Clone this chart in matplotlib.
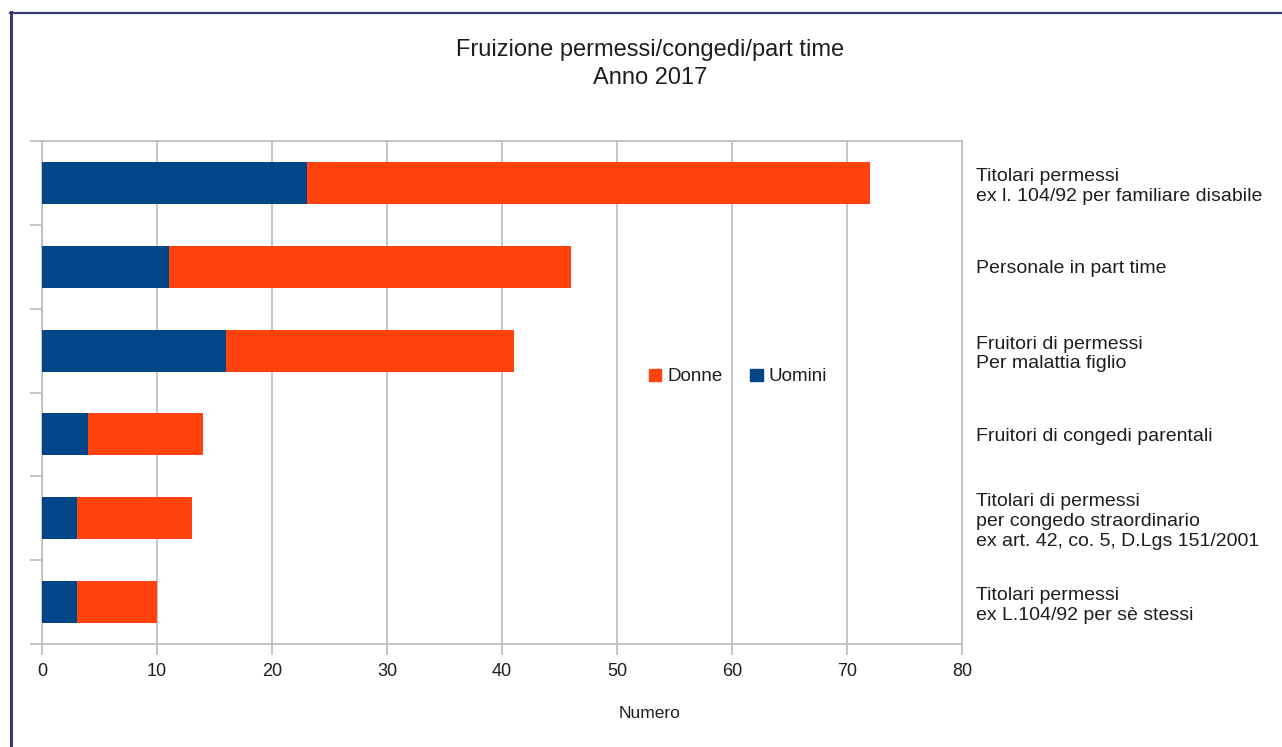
import matplotlib
matplotlib.use("Agg")
import matplotlib.pyplot as plt
from matplotlib.lines import Line2D
from matplotlib.patches import Patch
import numpy as np

# Dati (dall'alto verso il basso)
categorie = [
    "Titolari permessi\nex l. 104/92 per familiare disabile",
    "Personale in part time",
    "Fruitori di permessi\nPer malattia figlio",
    "Fruitori di congedi parentali",
    "Titolari di permessi\nper congedo straordinario\nex art. 42, co. 5, D.Lgs 151/2001",
    "Titolari permessi\nex L.104/92 per sè stessi",
]
uomini = [23, 11, 16, 4, 3, 3]
donne = [49, 35, 25, 10, 10, 7]

TITOLO = "Fruizione permessi/congedi/part time\nAnno 2017"
X_LABEL = "Numero"
X_TICKS = [0, 10, 20, 30, 40, 50, 60, 70, 80]

COL_UOMINI = "#004586"
COL_DONNE = "#ff420e"
COL_GRID = "#c0c0c0"
COL_TEXT = "#1e1e1e"

plt.rcParams["font.family"] = ["Liberation Sans", "DejaVu Sans"]

W, H = 1282, 747
fig = plt.figure(figsize=(W / 100, H / 100), dpi=100)
ax = fig.add_axes([42 / W, 1 - 644 / H, 920 / W, 503 / H])

y = np.arange(len(categorie))
ax.barh(y, uomini, height=0.5, color=COL_UOMINI, label="Uomini", zorder=3)
ax.barh(y, donne, left=uomini, height=0.5, color=COL_DONNE, label="Donne", zorder=3)

ax.set_xlim(0, 80)
ax.set_ylim(len(categorie) - 0.5, -0.5)
ax.set_xticks(X_TICKS)
ax.grid(axis="x", color=COL_GRID, linewidth=1.3, zorder=0)

# etichette categorie a destra, tacche ai confini a sinistra
ax.set_yticks(y)
ax.set_yticklabels(categorie, linespacing=1.2)
ax.set_yticks(np.arange(len(categorie) + 1) - 0.5, minor=True)
ax.tick_params(axis="y", which="major", left=False, right=False,
               labelleft=False, labelright=True, pad=6.5,
               labelsize=14, labelcolor=COL_TEXT)
ax.tick_params(axis="y", which="minor", left=True, length=9,
               width=1.3, color=COL_GRID)
ax.tick_params(axis="x", length=8, width=1.3, color=COL_GRID,
               labelsize=13, labelcolor=COL_TEXT, pad=6)

for s in ax.spines.values():
    s.set_color(COL_GRID)
    s.set_linewidth(1.3)

handles = [Patch(color=COL_DONNE, label="Donne"),
           Patch(color=COL_UOMINI, label="Uomini")]
ax.legend(handles=handles, loc="center", bbox_to_anchor=(0.7565, 0.531),
          ncol=2, frameon=False, fontsize=13.5, handlelength=0.65,
          handleheight=0.65, handletextpad=0.3, columnspacing=1.5,
          labelcolor=COL_TEXT)

fig.text(650 / W, 1 - 64 / H, TITOLO, ha="center", va="center",
         fontsize=17, color=COL_TEXT, linespacing=1.3)
fig.text(650 / W, 1 - 713 / H, X_LABEL, ha="center", va="center",
         fontsize=12.5, color=COL_TEXT)

# cornice
fig.add_artist(Line2D([11 / W, 11 / W], [0, 1 - 12 / H], color="#3a3a78",
                      linewidth=2.2, transform=fig.transFigure))
fig.add_artist(Line2D([10 / W, 1], [1 - 12.5 / H, 1 - 12.5 / H], color="#3a3a78",
                      linewidth=1.6, transform=fig.transFigure))

fig.savefig("out.png", dpi=100)
